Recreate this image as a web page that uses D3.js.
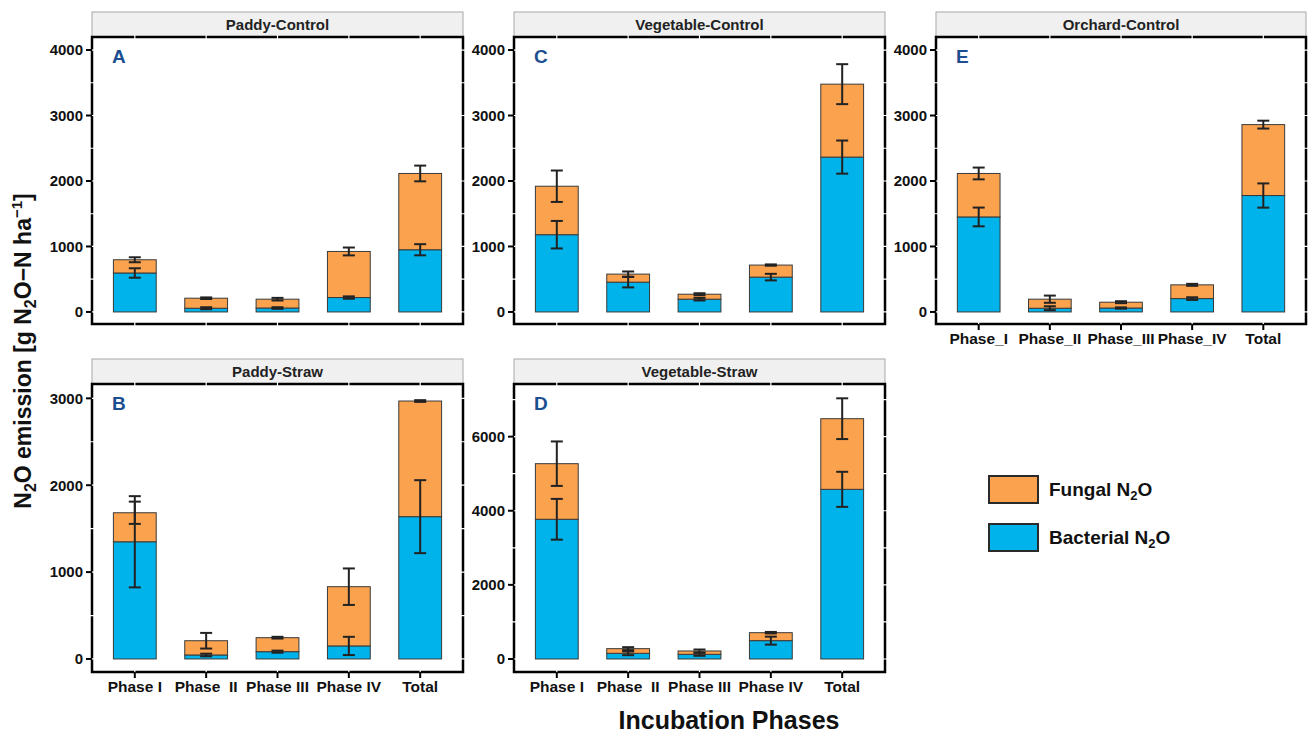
<!DOCTYPE html>
<html><head><meta charset="utf-8">
<script src="https://cdn.jsdelivr.net/npm/d3@7"></script>
<style>
body{margin:0;background:#fff}
text{font-family:"Liberation Sans",Arial,Helvetica,sans-serif;font-weight:bold;fill:#111}
</style>
</head><body>
<svg id="chart" width="1309" height="733"></svg>
<script>
// ---------- data ----------
const phases = ["Phase I", "Phase II", "Phase III", "Phase IV", "Total"];
const labelsStraw = ["Phase I", "Phase  II", "Phase III", "Phase IV", "Total"];
const labelsOrchard = ["Phase_I", "Phase_II", "Phase_III", "Phase_IV", "Total"];
const series = ["Fungal", "Bacterial"];

// Paddy-Control (A)
const paddyControlBacterial = [595, 57, 60, 220, 950];
const paddyControlFungal    = [202, 153, 135, 704, 1165];
const paddyControlErrBact   = [72, 15, 12, 18, 85];
const paddyControlErrTotal  = [38, 12, 20, 60, 120];
// Paddy-Straw (B)
const paddyStrawBacterial = [1349, 46, 84, 150, 1638];
const paddyStrawFungal    = [334, 164, 161, 682, 1331];
const paddyStrawErrBact   = [525, 15, 12, 105, 420];
const paddyStrawErrTotal  = [128, 90, 10, 210, 10];
// Vegetable-Control (C)
const vegControlBacterial = [1180, 455, 195, 532, 2365];
const vegControlFungal    = [740, 123, 76, 184, 1114];
const vegControlErrBact   = [210, 80, 20, 50, 253];
const vegControlErrTotal  = [240, 40, 15, 10, 305];
// Vegetable-Straw (D)
const vegStrawBacterial = [3770, 153, 126, 495, 4578];
const vegStrawFungal    = [1500, 126, 90, 215, 1906];
const vegStrawErrBact   = [550, 50, 40, 108, 473];
const vegStrawErrTotal  = [600, 40, 40, 20, 550];
// Orchard-Control (E)
const orchardControlBacterial = [1451, 57, 60, 204, 1778];
const orchardControlFungal    = [664, 138, 89, 210, 1083];
const orchardControlErrBact   = [143, 30, 10, 20, 185];
const orchardControlErrTotal  = [90, 55, 15, 15, 60];

const ticksControl = [0, 1000, 2000, 3000, 4000];
const ticksPaddyStraw = [0, 1000, 2000, 3000];
const ticksVegStraw = [0, 2000, 4000, 6000];

// ---------- style ----------
const COL_F = "#FBA24F", COL_B = "#00B3EA";
const svg = d3.select("#chart");

const panels = [
  {title:"Paddy-Control", letter:"A", b:paddyControlBacterial, f:paddyControlFungal, eb:paddyControlErrBact, et:paddyControlErrTotal,
   ticks:ticksControl, minor:[500,1500,2500,3500], dom:[-184,4199], x0:92, x1:463, y0:37, y1:324, labels:null},
  {title:"Paddy-Straw", letter:"B", b:paddyStrawBacterial, f:paddyStrawFungal, eb:paddyStrawErrBact, et:paddyStrawErrTotal,
   ticks:ticksPaddyStraw, minor:[500,1500,2500], dom:[-150,3165], x0:92, x1:463, y0:384, y1:672, labels:labelsStraw},
  {title:"Vegetable-Control", letter:"C", b:vegControlBacterial, f:vegControlFungal, eb:vegControlErrBact, et:vegControlErrTotal,
   ticks:ticksControl, minor:[500,1500,2500,3500], dom:[-184,4199], x0:514, x1:885, y0:37, y1:324, labels:null},
  {title:"Vegetable-Straw", letter:"D", b:vegStrawBacterial, f:vegStrawFungal, eb:vegStrawErrBact, et:vegStrawErrTotal,
   ticks:ticksVegStraw, minor:[1000,3000,5000,7000], dom:[-351,7420], x0:514, x1:885, y0:384, y1:672, labels:labelsStraw},
  {title:"Orchard-Control", letter:"E", b:orchardControlBacterial, f:orchardControlFungal, eb:orchardControlErrBact, et:orchardControlErrTotal,
   ticks:ticksControl, minor:[500,1500,2500,3500], dom:[-184,4199], x0:936, x1:1306, y0:37, y1:324, labels:labelsOrchard}
];

panels.forEach(p => {
  const g = svg.append("g");
  const x = d3.scalePoint().domain(phases).range([p.x0, p.x1]).padding(0.6);
  const bw = x.step() * 0.6;
  const y = d3.scaleLinear().domain(p.dom).range([p.y1, p.y0]);

  // strip
  g.append("rect").attr("x", p.x0).attr("y", p.y0 - 25).attr("width", p.x1 - p.x0).attr("height", 25)
    .attr("fill", "#F0F0F0").attr("stroke", "#A8A8A8").attr("stroke-width", 1);
  g.append("text").attr("x", (p.x0 + p.x1) / 2).attr("y", p.y0 - 12.5).attr("dy", "0.36em")
    .attr("text-anchor", "middle").style("font-size", "15px").style("fill", "#222").text(p.title);

  // border
  g.append("rect").attr("x", p.x0).attr("y", p.y0).attr("width", p.x1 - p.x0).attr("height", p.y1 - p.y0)
    .attr("fill", "#fff").attr("stroke", "#000").attr("stroke-width", 2.5);

  // white grid lines (show as notches on border)
  g.selectAll(".hg").data(p.ticks.concat(p.minor)).join("line")
    .attr("x1", p.x0 - 2).attr("x2", p.x1 + 2).attr("y1", d => y(d)).attr("y2", d => y(d))
    .attr("stroke", "#fff").attr("stroke-width", 1.2);
  g.selectAll(".vg").data(phases).join("line")
    .attr("x1", d => x(d)).attr("x2", d => x(d)).attr("y1", p.y0 - 2).attr("y2", p.y1 + 2)
    .attr("stroke", "#fff").attr("stroke-width", 1.2);

  // stacked bars
  const rows = phases.map((ph, i) => ({ph, b:p.b[i], f:p.f[i], eb:p.eb[i], et:p.et[i]}));
  g.selectAll(".bb").data(rows).join("rect")
    .attr("x", d => x(d.ph) - bw / 2).attr("width", bw)
    .attr("y", d => y(d.b)).attr("height", d => y(0) - y(d.b))
    .attr("fill", COL_B).attr("stroke", "#3a3a3a").attr("stroke-width", 1);
  g.selectAll(".bf").data(rows).join("rect")
    .attr("x", d => x(d.ph) - bw / 2).attr("width", bw)
    .attr("y", d => y(d.b + d.f)).attr("height", d => y(d.b) - y(d.b + d.f))
    .attr("fill", COL_F).attr("stroke", "#3a3a3a").attr("stroke-width", 1);

  // error bars
  const errs = [];
  rows.forEach(d => {
    errs.push({ph:d.ph, c:d.b, e:d.eb});
    errs.push({ph:d.ph, c:d.b + d.f, e:d.et});
  });
  const cap = 6;
  const eg = g.selectAll(".eg").data(errs).join("g").attr("stroke", "#222").attr("stroke-width", 2);
  eg.append("line").attr("x1", d => x(d.ph)).attr("x2", d => x(d.ph)).attr("y1", d => y(d.c - d.e)).attr("y2", d => y(d.c + d.e));
  eg.append("line").attr("x1", d => x(d.ph) - cap).attr("x2", d => x(d.ph) + cap).attr("y1", d => y(d.c + d.e)).attr("y2", d => y(d.c + d.e));
  eg.append("line").attr("x1", d => x(d.ph) - cap).attr("x2", d => x(d.ph) + cap).attr("y1", d => y(d.c - d.e)).attr("y2", d => y(d.c - d.e));

  // y axis ticks + labels
  g.selectAll(".yt").data(p.ticks).join("line")
    .attr("x1", p.x0 - 6).attr("x2", p.x0).attr("y1", d => y(d)).attr("y2", d => y(d))
    .attr("stroke", "#000").attr("stroke-width", 2);
  g.selectAll(".yl").data(p.ticks).join("text")
    .attr("x", p.x0 - 9).attr("y", d => y(d)).attr("dy", "0.36em").attr("text-anchor", "end")
    .style("font-size", "15px").text(d => d);

  // x axis ticks + labels
  if (p.labels) {
    g.selectAll(".xt").data(phases).join("line")
      .attr("x1", d => x(d)).attr("x2", d => x(d)).attr("y1", p.y1).attr("y2", p.y1 + 6)
      .attr("stroke", "#000").attr("stroke-width", 2);
    g.selectAll(".xl").data(phases).join("text")
      .attr("x", d => x(d)).attr("y", p.y1 + 20).attr("text-anchor", "middle")
      .style("font-size", "15.5px").style("white-space", "pre")
      .text((d, i) => p.labels[i]);
  }

  // panel letter
  g.append("text").attr("x", p.x0 + 20).attr("y", p.y0 + 26)
    .style("font-size", "19px").style("fill", "#1B4F8F").text(p.letter);
});

// y-axis title
const yt = svg.append("text").attr("transform", "translate(31,351) rotate(-90)")
  .attr("text-anchor", "middle").style("font-size", "23px");
yt.append("tspan").text("N");
yt.append("tspan").style("font-size", "16px").attr("dy", 5).text("2");
yt.append("tspan").attr("dy", -5).text("O emission [g N");
yt.append("tspan").style("font-size", "16px").attr("dy", 5).text("2");
yt.append("tspan").attr("dy", -5).text("O\u2212N ha");
yt.append("tspan").style("font-size", "15px").attr("dy", -9).text("\u22121");
yt.append("tspan").attr("dy", 9).text("]");

// x-axis title
svg.append("text").attr("x", 729).attr("y", 729).attr("text-anchor", "middle")
  .style("font-size", "25px").text("Incubation Phases");

// legend
const legItems = [{k:"Fungal", col:COL_F, y:476}, {k:"Bacterial", col:COL_B, y:524}];
const lg = svg.append("g");
legItems.forEach(d => {
  lg.append("rect").attr("x", 989).attr("y", d.y).attr("width", 49).attr("height", 27)
    .attr("fill", d.col).attr("stroke", "#2a2a2a").attr("stroke-width", 2);
  const t = lg.append("text").attr("x", 1049).attr("y", d.y + 13.5).attr("dy", "0.36em").style("font-size", "19px");
  t.append("tspan").text(d.k + " N");
  t.append("tspan").style("font-size", "13px").attr("dy", 4).text("2");
  t.append("tspan").attr("dy", -4).text("O");
});
</script>
</body></html>
